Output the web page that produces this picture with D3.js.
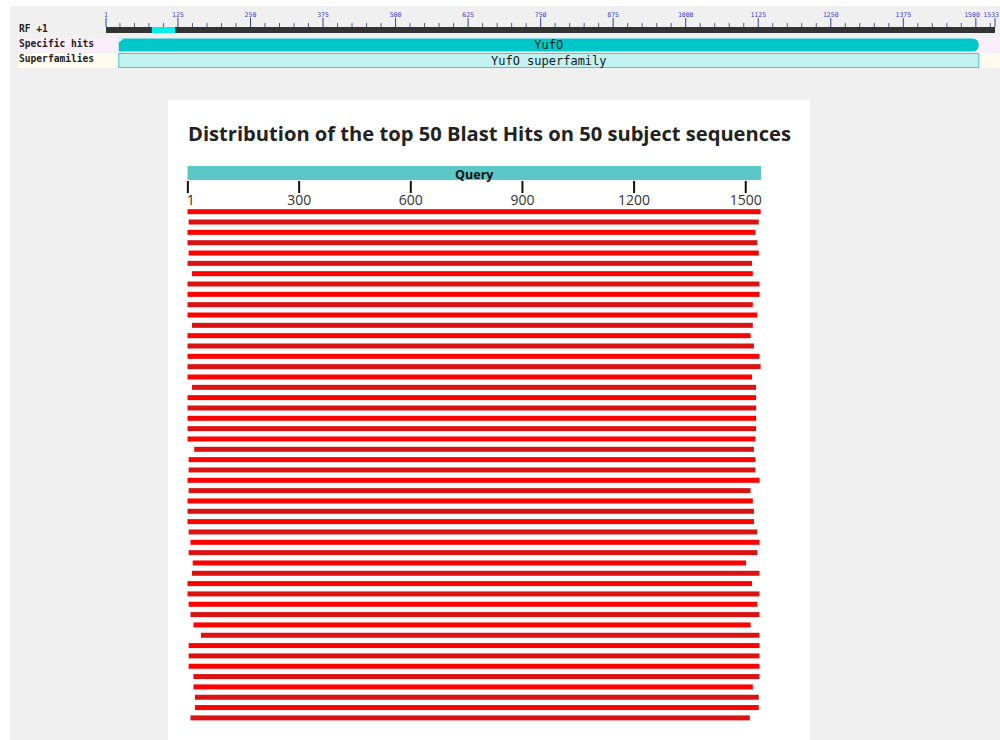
<!DOCTYPE html>
<html>
<head>
<meta charset="utf-8">
<script src="https://cdn.jsdelivr.net/npm/d3@7"></script>
<style>
  html, body { margin: 0; padding: 0; background: #fff; }
  svg { display: block; }
</style>
</head>
<body>
<div id="chart"></div>
<script>
// ---------------- data ----------------
const queryLength = 1541;
const queryTicks = [1, 300, 600, 900, 1200, 1500];
const rulerLength = 1533;
const rulerTicks = [1, 125, 250, 375, 500, 625, 750, 875, 1000, 1125, 1250, 1375, 1500, 1533];
const rulerHighlight = [80, 120];
const specificHit = { name: "YufO", start: 23, end: 1505 };
const superfamilyHit = { name: "YufO superfamily", start: 23, end: 1505 };
const trackLabels = ["RF +1", "Specific hits", "Superfamilies"];
const titleText = "Distribution of the top 50 Blast Hits on 50 subject sequences";

const hitStarts = [1, 4, 1, 1, 4, 1, 13, 1, 1, 1,
                   1, 13, 1, 1, 1, 1, 1, 13, 1, 1,
                   1, 1, 1, 19, 4, 4, 1, 4, 1, 1,
                   1, 4, 9, 4, 15, 13, 1, 1, 4, 9,
                   17, 37, 4, 4, 4, 17, 17, 21, 21, 9];
const hitEnds = [1540, 1535, 1526, 1531, 1535, 1517, 1519, 1537, 1537, 1519,
                 1531, 1519, 1513, 1522, 1537, 1540, 1517, 1528, 1528, 1528,
                 1528, 1528, 1526, 1522, 1526, 1526, 1537, 1513, 1519, 1522,
                 1522, 1531, 1537, 1531, 1501, 1537, 1517, 1537, 1531, 1537,
                 1513, 1537, 1537, 1537, 1537, 1537, 1519, 1535, 1535, 1511];

// ---------------- drawing ----------------
const W = 1000, H = 740;
const svg = d3.select("#chart").append("svg").attr("width", W).attr("height", H);

svg.append("rect").attr("width", W).attr("height", H).attr("fill", "#ffffff");
svg.append("rect").attr("x", 10).attr("y", 6).attr("width", W - 10).attr("height", H - 6).attr("fill", "#f0f0f0");

// ---- top conserved-domain graphic ----
const xr = d3.scaleLinear().domain([1, rulerLength]).range([106, 995]);
const mono = "'DejaVu Sans Mono', 'Liberation Mono', monospace";

// row backgrounds
svg.append("rect").attr("x", 18).attr("y", 38).attr("width", W - 18).attr("height", 14).attr("fill", "#fdeefc");
svg.append("rect").attr("x", 18).attr("y", 53).attr("width", W - 18).attr("height", 15).attr("fill", "#fffcee");

// labels
const labelY = [32, 47, 62];
svg.selectAll("text.tracklab").data(trackLabels).join("text")
  .attr("class", "tracklab")
  .attr("x", 19).attr("y", (d, i) => labelY[i])
  .attr("font-family", mono).attr("font-weight", "bold").attr("font-size", 9.6)
  .attr("fill", "#222").text(d => d);

// ruler bar
svg.append("rect").attr("x", xr(1)).attr("y", 27).attr("width", xr(rulerLength) - xr(1)).attr("height", 6).attr("fill", "#333333");
svg.append("rect").attr("x", xr(rulerHighlight[0])).attr("y", 27)
  .attr("width", xr(rulerHighlight[1]) - xr(rulerHighlight[0])).attr("height", 6).attr("fill", "#00eeee");

const minorTicks = d3.range(25, rulerLength, 25).filter(v => v % 125 !== 0);
svg.selectAll("line.minor").data(minorTicks).join("line")
  .attr("class", "minor")
  .attr("x1", d => xr(d)).attr("x2", d => xr(d)).attr("y1", 23).attr("y2", 27)
  .attr("stroke", "#55608a").attr("stroke-width", 1);
svg.selectAll("line.major").data(rulerTicks).join("line")
  .attr("class", "major")
  .attr("x1", d => xr(d)).attr("x2", d => xr(d)).attr("y1", 18).attr("y2", 27)
  .attr("stroke", "#3a3f9a").attr("stroke-width", 1);
svg.selectAll("text.rlab").data(rulerTicks).join("text")
  .attr("class", "rlab")
  .attr("x", d => d === rulerLength ? W - 1 : (d === 1500 ? xr(d) + 4 : xr(d))).attr("y", 17)
  .attr("text-anchor", d => (d === rulerLength || d === 1500) ? "end" : "middle")
  .attr("font-family", mono).attr("font-size", 6.5)
  .attr("fill", "#3b3bd0").text(d => d);

// specific hit (rounded right end)
{
  const x0 = xr(specificHit.start), x1 = xr(specificHit.end), y0 = 38.5, y1 = 51.5, r = 6.5;
  const p = d3.path();
  p.moveTo(x0, y0);
  p.lineTo(x1 - r, y0);
  p.quadraticCurveTo(x1, y0, x1, (y0 + y1) / 2);
  p.quadraticCurveTo(x1, y1, x1 - r, y1);
  p.lineTo(x0, y1);
  p.closePath();
  svg.append("path").attr("d", p.toString()).attr("fill", "#00c8c8");
  svg.append("path").attr("d", `M${x0},${y0}L${x0 + 5},${y0}L${x0},${y0 + 4}Z`).attr("fill", "#e8f6f6");
  svg.append("text").attr("x", (x0 + x1) / 2).attr("y", 48.5).attr("text-anchor", "middle")
    .attr("font-family", mono).attr("font-size", 12).attr("fill", "#1a1a1a")
    .text(specificHit.name);
}
// superfamily
{
  const x0 = xr(superfamilyHit.start), x1 = xr(superfamilyHit.end);
  svg.append("rect").attr("x", x0).attr("y", 53.5).attr("width", x1 - x0).attr("height", 14)
    .attr("fill", "#c1f1f1").attr("stroke", "#4cc6c6").attr("stroke-width", 1);
  svg.append("text").attr("x", (x0 + x1) / 2).attr("y", 64.5).attr("text-anchor", "middle")
    .attr("font-family", mono).attr("font-size", 12).attr("fill", "#1a1a1a")
    .text(superfamilyHit.name);
}

// ---- main BLAST panel ----
svg.append("rect").attr("x", 168).attr("y", 100).attr("width", 642).attr("height", 640).attr("fill", "#ffffff");

const sans = "'Open Sans', 'Noto Sans', sans-serif";
svg.append("text").attr("x", 188).attr("y", 141)
  .attr("font-family", sans).attr("font-weight", "bold").attr("font-size", 20)
  .attr("fill", "#222").attr("textLength", 603).attr("lengthAdjust", "spacingAndGlyphs")
  .text(titleText);

const x = d3.scaleLinear().domain([0, queryLength]).range([187.5, 761]);

svg.append("rect").attr("x", x(0)).attr("y", 166).attr("width", x(queryLength) - x(0)).attr("height", 14)
  .attr("fill", "#5cc7c7");
svg.append("text").attr("x", (x(0) + x(queryLength)) / 2).attr("y", 178.5).attr("text-anchor", "middle")
  .attr("font-family", sans).attr("font-weight", "bold").attr("font-size", 12.5).attr("fill", "#111")
  .text("Query");

svg.selectAll("line.qtick").data(queryTicks).join("line")
  .attr("class", "qtick")
  .attr("x1", d => x(d)).attr("x2", d => x(d)).attr("y1", 181).attr("y2", 193)
  .attr("stroke", "#111").attr("stroke-width", 2);
svg.selectAll("text.qlab").data(queryTicks).join("text")
  .attr("class", "qlab")
  .attr("x", d => d === 1 ? x(d) - 1 : x(d)).attr("y", 205)
  .attr("text-anchor", d => d === 1 ? "start" : "middle")
  .attr("font-family", sans).attr("font-size", 14).attr("fill", "#333")
  .text(d => d);

const hits = hitStarts.map((s, i) => ({ i, start: s, end: hitEnds[i] }));
const y = d3.scaleLinear().domain([0, hits.length - 1]).range([211.7, 717.9]);
svg.selectAll("rect.hit").data(hits).join("rect")
  .attr("class", "hit")
  .attr("x", d => x(d.start - 1)).attr("y", d => y(d.i) - 2.5)
  .attr("width", d => x(d.end) - x(d.start - 1)).attr("height", 5)
  .attr("fill", d => d.i % 2 === 0 ? "#ff0000" : "#da1212");
</script>
</body>
</html>
